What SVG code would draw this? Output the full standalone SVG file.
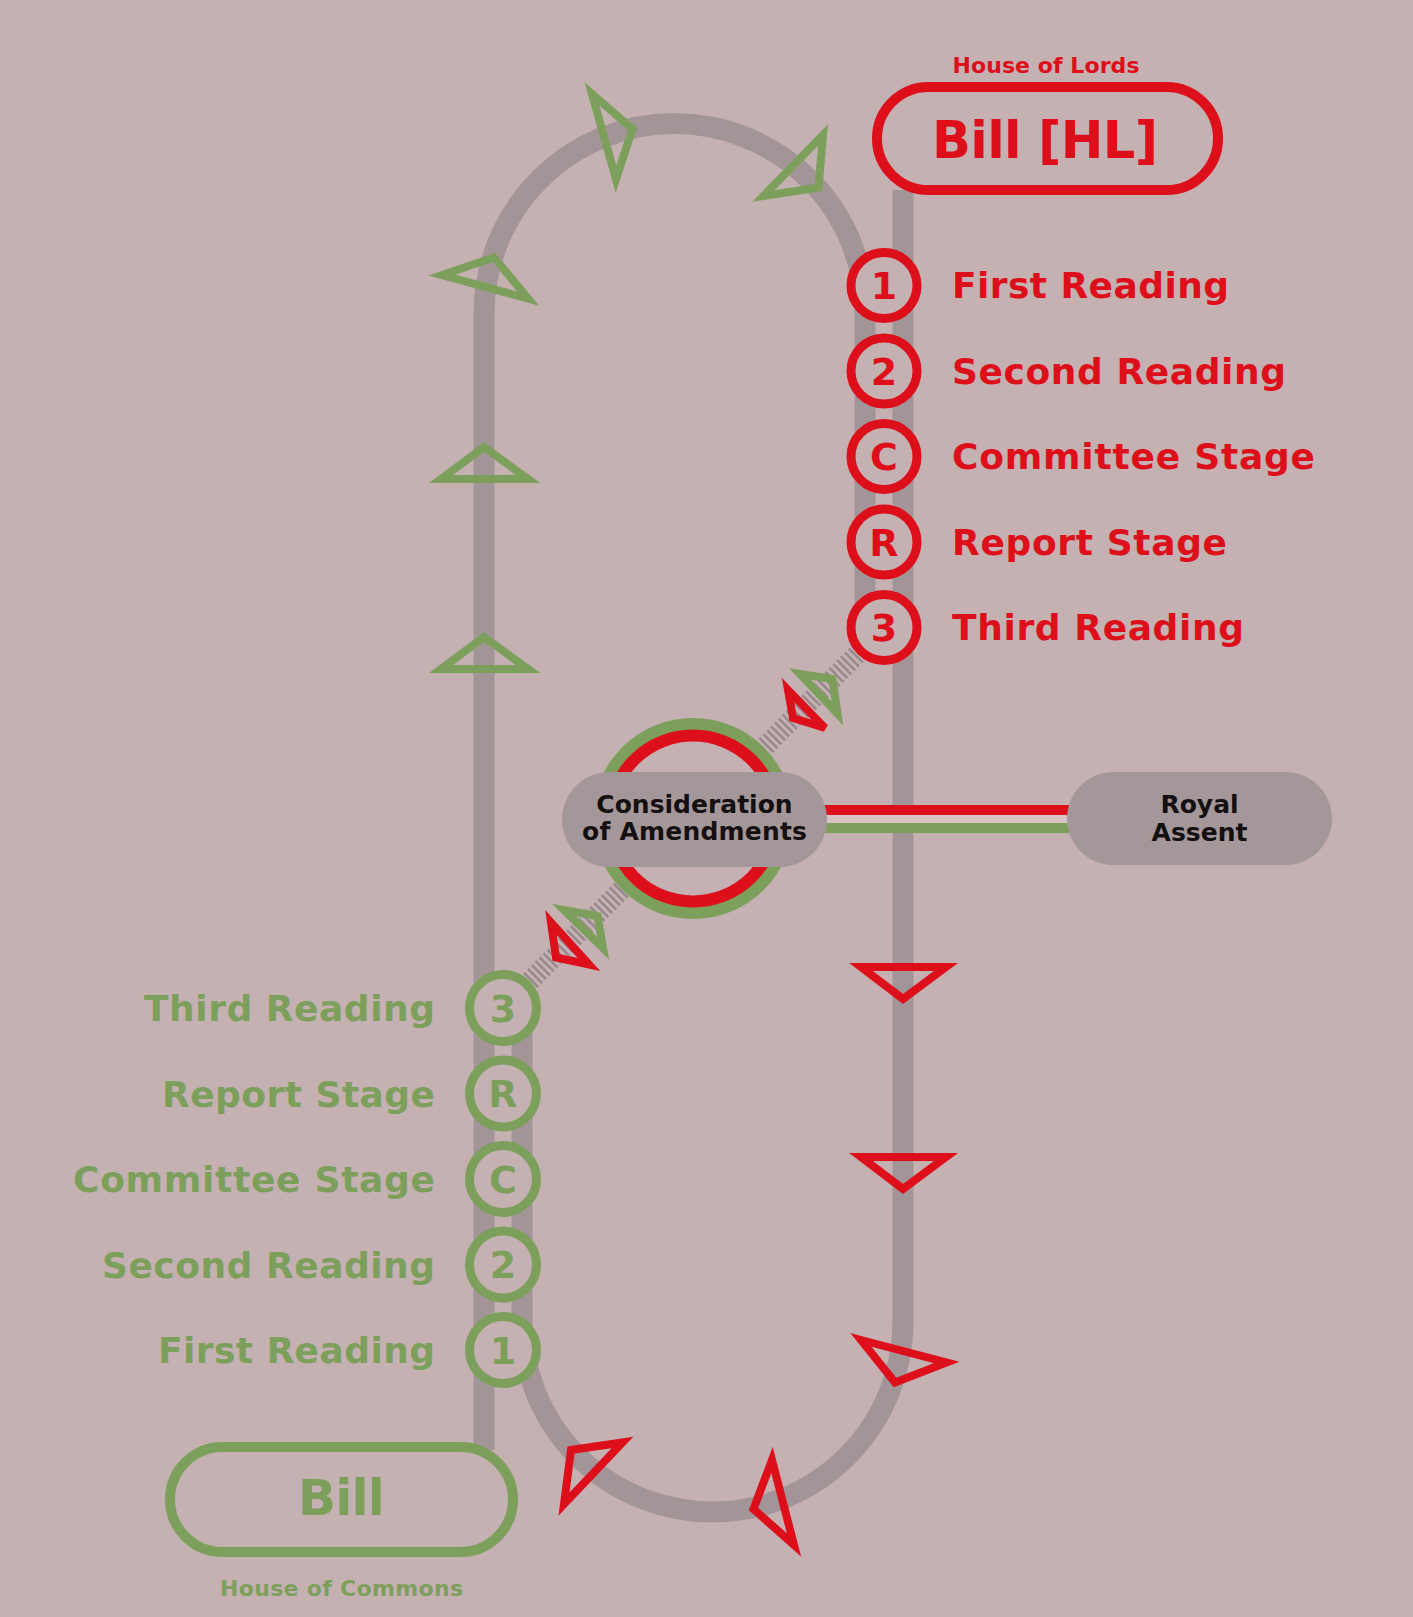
<svg xmlns="http://www.w3.org/2000/svg" width="1413" height="1617" viewBox="0 0 1413 1617">
<defs>
<style>
.bg{fill:#c5b0b2}
.track{fill:none;stroke:#a39597;stroke-width:21}
.hatch{fill:none;stroke:#978a8d;stroke-width:20;stroke-dasharray:2.5 3}
.rst{fill:#c5b0b2;stroke:#dd0f1b;stroke-width:9}
.gst{fill:#c5b0b2;stroke:#7ca05c;stroke-width:9}
.rtri{fill:none;stroke:#dd0f1b;stroke-width:8;stroke-linejoin:miter}
.gtri{fill:none;stroke:#7ca05c;stroke-width:8;stroke-linejoin:miter}
.t{font-family:"DejaVu Sans","Verdana",sans-serif;font-weight:bold}
.rt{fill:#dd0f1b}
.gt{fill:#7ca05c}
.num{font-size:38px;text-anchor:middle}
.lbl{font-size:36px}
.node{font-size:25px;fill:#141012;text-anchor:middle}
.pill{fill:#a49799}
</style>
</defs>
<rect class="bg" x="0" y="0" width="1413" height="1617"/>

<g id="connectors">
<path id="track-commons-to-lords" class="track" d="M484,1450 V314 A190.5,190.5 0 0 1 865,314 V627.5"/>
<path id="track-lords-to-commons" class="track" d="M903,190 V1321.5 A190.5,190.5 0 0 1 522,1321.5 V1008"/>
<path id="hatch-upper" class="hatch" d="M884,627.5 L693,818.5"/>
<path id="hatch-lower" class="hatch" d="M503,1008 L693,818.5"/>
<line x1="760" y1="819" x2="1100" y2="819" stroke="#d9c2c4" stroke-width="9"/>
<line x1="760" y1="810" x2="1100" y2="810" stroke="#dd0f1b" stroke-width="10"/>
<line x1="760" y1="828" x2="1100" y2="828" stroke="#7ca05c" stroke-width="10"/>
<g id="arrows-green">
<polygon class="gtri" points="442,275 494,257.5 528,298.5"/>
<polygon class="gtri" points="592,94 632.5,129 616,179"/>
<polygon class="gtri" points="823,135 818.5,187.5 763.5,196"/>
<polygon class="gtri" points="484,447 441,479 528,479"/>
<polygon class="gtri" points="484,637 441,669 528,669"/>
<polygon class="gtri" points="800,674 832.5,679 837.5,713.5"/>
<polygon class="gtri" points="564,910 597.5,916 603,948"/>
</g>
<g id="arrows-red">
<polygon class="rtri" points="861,967 946,967 903,999"/>
<polygon class="rtri" points="861,1157 946,1157 903,1189"/>
<polygon class="rtri" points="861,1340 946.5,1362.5 895,1382.5"/>
<polygon class="rtri" points="772,1460 794,1545 753.5,1509"/>
<polygon class="rtri" points="571,1450 622.5,1442.5 564,1504"/>
<polygon class="rtri" points="788,690 825,728 793,718"/>
<polygon class="rtri" points="551,922.5 589,964.5 556,957.5"/>
</g>
</g>

<g id="bill-hl">
<text class="t rt" x="1046" y="73" font-size="22" text-anchor="middle" textLength="187" lengthAdjust="spacing">House of Lords</text>
<rect x="877" y="87" width="341" height="103" rx="51.5" fill="none" stroke="#dd0f1b" stroke-width="10"/>
<text class="t rt" x="1045" y="158" font-size="51" text-anchor="middle" textLength="226" lengthAdjust="spacing">Bill [HL]</text>
</g>

<g id="bill-commons">
<rect x="170" y="1447" width="343" height="105" rx="52.5" fill="none" stroke="#7ca05c" stroke-width="10"/>
<text class="t gt" x="341.5" y="1515" font-size="50" text-anchor="middle" textLength="87" lengthAdjust="spacing">Bill</text>
<text class="t gt" x="341.5" y="1596" font-size="22" text-anchor="middle" textLength="243" lengthAdjust="spacing">House of Commons</text>
</g>

<g id="lords-stages">
<g id="lords-1"><circle class="rst" cx="884" cy="285.5" r="33"/><text class="t rt num" x="884" y="299">1</text><text class="t rt lbl" x="952" y="298" textLength="277" lengthAdjust="spacing">First Reading</text></g>
<g id="lords-2"><circle class="rst" cx="884" cy="371" r="33"/><text class="t rt num" x="884" y="384.5">2</text><text class="t rt lbl" x="952" y="383.5" textLength="334" lengthAdjust="spacing">Second Reading</text></g>
<g id="lords-c"><circle class="rst" cx="884" cy="456.5" r="33"/><text class="t rt num" x="884" y="470">C</text><text class="t rt lbl" x="952" y="469" textLength="363" lengthAdjust="spacing">Committee Stage</text></g>
<g id="lords-r"><circle class="rst" cx="884" cy="542" r="33"/><text class="t rt num" x="884" y="555.5">R</text><text class="t rt lbl" x="952" y="554.5" textLength="275" lengthAdjust="spacing">Report Stage</text></g>
<g id="lords-3"><circle class="rst" cx="884" cy="627.5" r="33"/><text class="t rt num" x="884" y="641">3</text><text class="t rt lbl" x="952" y="640" textLength="292" lengthAdjust="spacing">Third Reading</text></g>
</g>

<g id="commons-stages">
<g id="commons-3"><circle class="gst" cx="503" cy="1008" r="33.5"/><text class="t gt num" x="503" y="1021.5">3</text><text class="t gt lbl" x="435" y="1021" text-anchor="end" textLength="291" lengthAdjust="spacing">Third Reading</text></g>
<g id="commons-r"><circle class="gst" cx="503" cy="1093.5" r="33.5"/><text class="t gt num" x="503" y="1107">R</text><text class="t gt lbl" x="435" y="1106.5" text-anchor="end" textLength="273" lengthAdjust="spacing">Report Stage</text></g>
<g id="commons-c"><circle class="gst" cx="503" cy="1179" r="33.5"/><text class="t gt num" x="503" y="1192.5">C</text><text class="t gt lbl" x="435" y="1192" text-anchor="end" textLength="362" lengthAdjust="spacing">Committee Stage</text></g>
<g id="commons-2"><circle class="gst" cx="503" cy="1264.5" r="33.5"/><text class="t gt num" x="503" y="1278">2</text><text class="t gt lbl" x="435" y="1277.5" text-anchor="end" textLength="333" lengthAdjust="spacing">Second Reading</text></g>
<g id="commons-1"><circle class="gst" cx="503" cy="1350" r="33.5"/><text class="t gt num" x="503" y="1363.5">1</text><text class="t gt lbl" x="435" y="1363" text-anchor="end" textLength="277" lengthAdjust="spacing">First Reading</text></g>
</g>

<g id="consideration">
<circle cx="693" cy="818.5" r="94.5" fill="#c5b0b2" stroke="#7ca05c" stroke-width="12"/>
<circle cx="693" cy="818.5" r="83" fill="none" stroke="#dd0f1b" stroke-width="12"/>
<rect class="pill" x="562" y="772" width="265" height="95" rx="47.5"/>
<text class="t node" x="694.5" y="813">Consideration</text>
<text class="t node" x="694.5" y="840" textLength="225" lengthAdjust="spacing">of Amendments</text>
</g>

<g id="royal-assent">
<rect class="pill" x="1067" y="772" width="265" height="93" rx="46.5"/>
<text class="t node" x="1199.5" y="813">Royal</text>
<text class="t node" x="1199.5" y="841">Assent</text>
</g>
</svg>
